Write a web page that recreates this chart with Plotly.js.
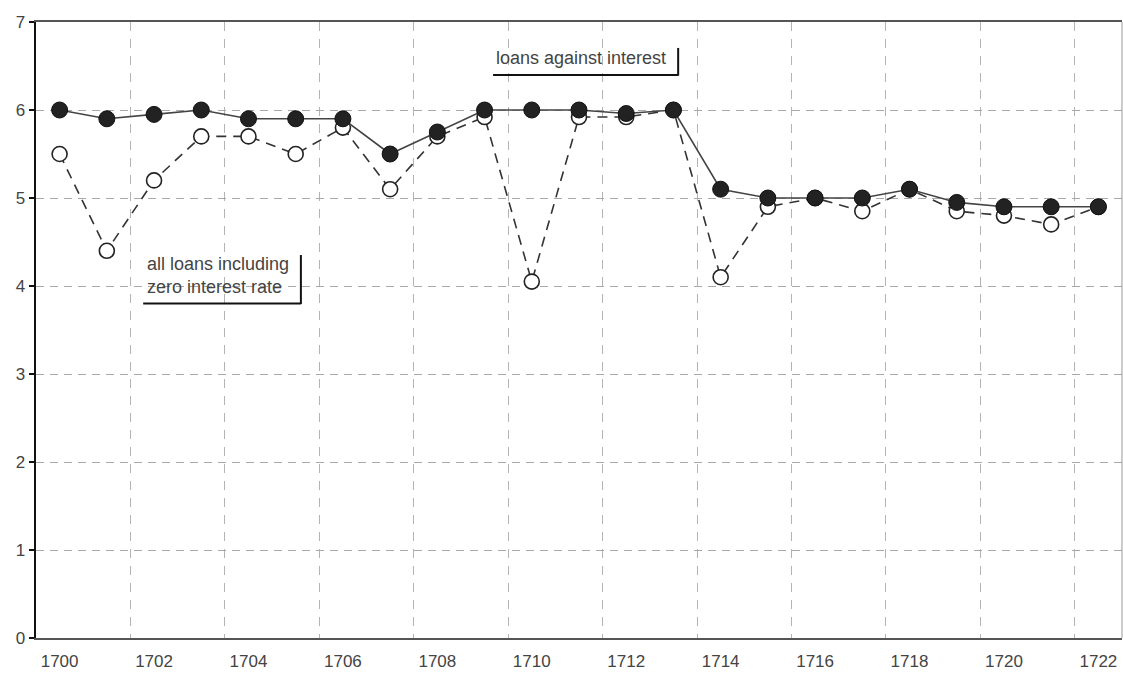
<!DOCTYPE html>
<html>
<head>
<meta charset="utf-8">
<script src="https://cdn.plot.ly/plotly-3.0.1.min.js"></script>
<style>html,body{margin:0;padding:0;background:#fff;}#chart{width:1123px;height:674px;}</style>
</head>
<body>
<div id="chart"></div>
<script>
// Years (categories)
const years = [1700,1701,1702,1703,1704,1705,1706,1707,1708,1709,1710,1711,1712,1713,1714,1715,1716,1717,1718,1719,1720,1721,1722];
// Loans against interest (filled markers)
const loansAgainstInterest = [6.0,5.9,5.95,6.0,5.9,5.9,5.9,5.5,5.75,6.0,6.0,6.0,5.96,6.0,5.1,5.0,5.0,5.0,5.1,4.95,4.9,4.9,4.9];
// All loans including zero interest rate (open markers)
const allLoans = [5.5,4.4,5.2,5.7,5.7,5.5,5.8,5.1,5.7,5.92,4.05,5.92,5.92,6.0,4.1,4.9,5.0,4.85,5.1,4.85,4.8,4.7,4.9];
// Tick labels
const xTickLabels = ['1700','1702','1704','1706','1708','1710','1712','1714','1716','1718','1720','1722'];
const xTickVals = xTickLabels.map(Number);
const yTickVals = [0,1,2,3,4,5,6,7];
// Gridlines sit between categories (every second boundary)
const gridVals = xTickVals.slice(0, -1).map(v => v + 1.5);

const fontFam = '"Liberation Sans", Arial, sans-serif';

const traces = [
  {
    x: years, y: allLoans, type: 'scatter', mode: 'lines+markers',
    name: 'all loans including zero interest rate',
    line: {color: '#333', width: 1.6, dash: '10px,7px'},
    marker: {size: 15, color: '#ffffff', line: {color: '#222', width: 1.6}},
    cliponaxis: false
  },
  {
    x: years, y: loansAgainstInterest, type: 'scatter', mode: 'lines+markers',
    name: 'loans against interest',
    line: {color: '#444', width: 1.6},
    marker: {size: 16, color: '#222', line: {color: '#111', width: 1}},
    cliponaxis: false
  }
];

const layout = {
  width: 1123, height: 674,
  margin: {l: 36, r: 1, t: 22, b: 36},
  paper_bgcolor: '#ffffff', plot_bgcolor: '#ffffff',
  showlegend: false,
  font: {family: fontFam, color: '#444'},
  xaxis: {
    range: [1699.5, 1722.5],
    tickmode: 'array', tickvals: xTickVals, ticktext: xTickLabels,
    showgrid: false, zeroline: false,
    showline: true, linecolor: '#555', linewidth: 2, mirror: true,
    ticks: '', ticklabelstandoff: 7,
    tickfont: {family: fontFam, size: 17, color: '#444'},
    minor: {tickmode: 'array', tickvals: gridVals, showgrid: true, gridcolor: '#b3b3b3', gridwidth: 1, griddash: '9px,8px', ticks: ''}
  },
  yaxis: {
    range: [0, 7],
    tickmode: 'array', tickvals: yTickVals,
    showgrid: true, gridcolor: '#a8a8a8', gridwidth: 1, griddash: '8px,6px',
    zeroline: false,
    showline: true, linecolor: '#111', linewidth: 2.5,
    ticks: 'outside', ticklen: 5, tickcolor: '#111', tickwidth: 1.5,
    tickfont: {family: fontFam, size: 17, color: '#444'}
  },
  shapes: [
    // right frame edge
    {type: 'line', xref: 'paper', yref: 'paper', x0: 1, x1: 1, y0: 0, y1: 1, line: {color: '#999', width: 1}},
    // shadow of "loans against interest" label
    {type: 'line', xref: 'x', yref: 'y', x0: 1713.1, x1: 1713.1, y0: 6.39, y1: 6.705, line: {color: '#111', width: 2}},
    {type: 'line', xref: 'x', yref: 'y', x0: 1709.18, x1: 1713.1, y0: 6.398, y1: 6.398, line: {color: '#111', width: 2}},
    // shadow of "all loans including zero interest rate" label
    {type: 'line', xref: 'x', yref: 'y', x0: 1705.11, x1: 1705.11, y0: 3.795, y1: 4.352, line: {color: '#111', width: 2}},
    {type: 'line', xref: 'x', yref: 'y', x0: 1701.77, x1: 1705.11, y0: 3.8, y1: 3.8, line: {color: '#111', width: 2}}
  ],
  annotations: [
    {x: 1711.04, y: 6.59, xref: 'x', yref: 'y', text: 'loans against interest', showarrow: false,
     xanchor: 'center', yanchor: 'middle', font: {family: fontFam, size: 18, color: '#444'}},
    {x: 1701.8, y: 4.12, xref: 'x', yref: 'y', text: 'all loans including<br>zero interest rate', showarrow: false,
     xanchor: 'left', yanchor: 'middle', align: 'left', font: {family: fontFam, size: 18, color: '#444'}}
  ]
};

Plotly.newPlot('chart', traces, layout, {displayModeBar: false, staticPlot: true});
</script>
</body>
</html>
